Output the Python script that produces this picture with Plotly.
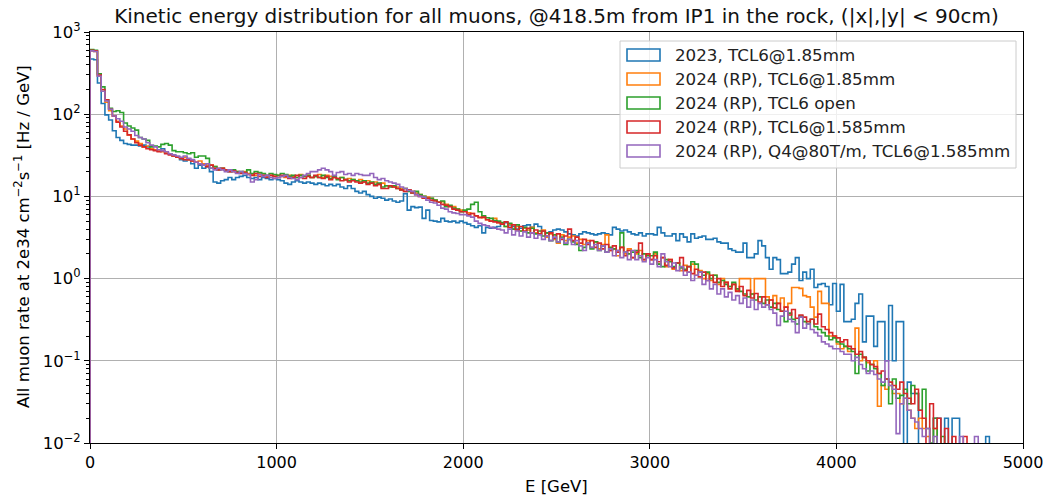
import plotly.graph_objects as go

BIN_WIDTH = 20  # GeV

series_names = [
    "2023, TCL6@1.85mm",
    "2024 (RP), TCL6@1.85mm",
    "2024 (RP), TCL6 open",
    "2024 (RP), TCL6@1.585mm",
    "2024 (RP), Q4@80T/m, TCL6@1.585mm",
]
colors = ["#1f77b4", "#ff7f0e", "#2ca02c", "#d62728", "#9467bd"]

rate_2023_185 = [
    470, 460, 240, 135, 98, 85, 63, 52, 48, 44,
    43, 42, 42, 41, 42, 40, 38, 37, 36, 38,
    34, 33, 31, 30, 28, 27, 28, 25, 22, 24,
    22, 23, 20, 15, 14.5, 15.5, 16, 17, 16, 17,
    17.5, 18, 17, 16.5, 17, 16, 17, 16.5, 16, 16.5,
    16, 15.5, 14.5, 14, 15, 15.5, 15, 14.5, 15, 14.5,
    14, 14.5, 14, 13.5, 14, 13.5, 14, 13, 12.5, 13.5,
    12.5, 11.5, 11, 11.5, 10.5, 10, 9.5, 9.8, 9.5, 9,
    9.3, 8.8, 8.5, 8.8, 10.8, 6.8, 7.5, 7.3, 7.4, 5.4,
    6.8, 5.1, 5.0, 4.9, 5.4, 5.0, 4.9, 5.0, 4.8, 5.0,
    4.8, 4.6, 4.4, 4.2, 4.4, 3.6, 4.2, 4.1, 4.2, 4.3,
    4.7, 4.8, 4.5, 4.3, 4.0, 4.1, 4.4, 4.5, 4.2, 4.6,
    4.3, 3.8, 3.6, 3.7, 3.9, 4.0, 3.9, 3.7, 3.5, 3.4,
    3.3, 3.5, 3.7, 3.6, 3.5, 3.4, 3.5, 3.6, 3.5, 3.4,
    4.2, 4.0, 3.8, 3.9, 3.7, 3.5, 3.4, 3.6, 3.3, 3.5,
    3.5, 3.4, 4.2, 3.6, 3.3, 3.3, 3.5, 2.9, 3.5, 3.2,
    2.8, 3.5, 3.1, 3.2, 3.3, 3.0, 3.0, 3.1, 2.8, 2.7,
    2.7, 2.3, 2.2, 2.1, 2.1, 2.7, 1.8, 1.8, 2.0, 2.9,
    2.5, 1.8, 1.3, 1.8, 1.7, 1.15, 1.15, 1.2, 1.5, 1.8,
    0.95, 1.2, 1.0, 1.3, 0.78, 0.85, 0.87, 0.8, 0.48, 0.87,
    0.4, 0.85, 0.3, 0.3, 0.32, 0.5, 0.65, 0.17, 0.35, 0.35,
    0.15, 0.3, 0.3, 0.1, 0.47, 0.1, 0.3, 0.3, 0, 0.055,
    0.04, 0.04, 0, 0, 0, 0, 0.02, 0.02, 0, 0.02,
    0, 0.02, 0.02, 0, 0, 0, 0, 0, 0, 0,
    0.012,
]

rate_2024_185 = [
    590, 580, 290, 190, 140, 110, 95, 82, 72, 66,
    56, 50, 47, 44, 40, 41, 38, 37, 36, 35,
    34, 33, 31, 30, 29, 30, 28, 27, 26, 27,
    25, 24, 24, 23, 22, 22, 21, 21, 20, 20,
    19.5, 20, 19, 18.5, 18, 19, 18, 17.5, 18, 17.5,
    18, 17.5, 17, 18, 17.5, 17, 18.5, 17.5, 18, 17,
    17.5, 18.5, 17, 18, 17.5, 17, 16.5, 17, 16, 16.5,
    16, 15.5, 16, 15, 15.5, 14.5, 15, 14, 14.5, 13.5,
    13.5, 13, 13, 12.5, 12.5, 12, 11.5, 11, 10.5, 10,
    9.8, 9.5, 9, 8.5, 8.6, 8, 7.6, 7.5, 7, 6.8,
    6.6, 6.3, 6.2, 5.8, 5.6, 5.5, 5.2, 5.0, 5.4, 4.8,
    4.7, 4.3, 4.6, 4.0, 4.3, 3.8, 4.1, 3.9, 4.2, 3.6,
    3.5, 3.9, 3.2, 3.5, 3.0, 2.7, 3.4, 2.9, 3.2, 3.3,
    2.7, 3.0, 2.6, 2.9, 2.4, 2.8, 2.3, 2.6, 3.4, 2.2,
    2.3, 1.9, 2.4, 2.0, 2.3, 1.8, 2.0, 2.2, 1.7, 2.0,
    1.7, 2.0, 1.5, 1.8, 1.4, 1.7, 1.3, 1.55, 1.25, 1.45,
    1.2, 1.5, 1.1, 1.25, 1.0, 1.15, 0.95, 1.1, 0.85, 1.0,
    0.9, 0.8, 0.85, 0.72, 1.0, 1.0, 1.0, 0.65, 1.0, 1.0,
    1.0, 0.6, 0.55, 0.62, 0.5, 0.58, 0.45, 0.5, 0.78, 0.78,
    0.76, 0.62, 0.6, 0.45, 0.34, 0.7, 0.5, 0.5, 0.2, 0.2,
    0.16, 0.14, 0.15, 0.13, 0.14, 0.25, 0.1, 0.11, 0.095, 0.09,
    0.1, 0.028, 0.05, 0.045, 0.05, 0.04, 0.04, 0.03, 0.035, 0.025,
    0.02, 0.015, 0.02, 0.015, 0.012, 0, 0.015, 0, 0, 0,
]

rate_2024_open = [
    610, 600, 310, 215, 150, 118, 108, 110, 105, 78,
    72, 68, 64, 52, 50, 48, 40, 41, 40, 43,
    44, 42, 36, 35, 35, 34, 33, 34, 30, 31,
    31, 29, 22, 23, 21, 22, 21, 20, 21, 20,
    20, 19.5, 21, 19, 20, 19.5, 19, 18, 19, 18.5,
    18, 19, 18.5, 17.5, 18, 17, 18, 17.5, 18, 17,
    17.5, 17, 18, 17, 16.5, 17.5, 16, 17, 16, 15.5,
    16, 15.5, 15, 15.5, 14.5, 15, 14, 14.5, 13, 13.5,
    13, 13.5, 12.5, 12, 12.5, 11.5, 11, 11.5, 10.5, 10,
    9.5, 9.5, 9, 8.5, 8.8, 7.5, 7.8, 7.2, 7.0, 6.5,
    6.8, 7.0, 8.0, 8.5, 6.5, 5.8, 5.5, 5.4, 5.1, 5.0,
    4.8, 4.3, 4.7, 4.0, 4.5, 3.8, 4.2, 3.6, 4.1, 3.5,
    3.8, 3.3, 3.6, 2.9, 3.4, 2.8, 3.2, 2.6, 3.0, 2.8,
    2.6, 2.2, 2.4, 2.7, 2.3, 2.8, 2.2, 2.5, 2.1, 2.4,
    2.3, 2.2, 3.6, 2.1, 2.0, 2.1, 2.2, 1.8, 2.0, 1.9,
    1.9, 2.1, 1.5, 1.4, 1.7, 1.6, 1.4, 1.55, 1.35, 1.3,
    1.4, 1.6, 1.5, 1.2, 1.1, 1.2, 1.0, 1.1, 0.9, 0.95,
    0.85, 0.8, 0.9, 0.75, 0.7, 0.65, 0.6, 0.65, 0.55, 0.6,
    0.5, 0.55, 0.45, 0.5, 0.42, 0.4, 0.3, 0.38, 0.32, 0.28,
    0.35, 0.3, 0.28, 0.32, 0.26, 0.24, 0.22, 0.2, 0.18, 0.19,
    0.17, 0.16, 0.15, 0.14, 0.13, 0.07, 0.12, 0.11, 0.075, 0.09,
    0.08, 0.07, 0.05, 0.06, 0.03, 0.06, 0.035, 0.038, 0.045, 0.03,
    0.05, 0.04, 0.025, 0.045, 0.015, 0.01, 0.02, 0, 0.012, 0,
]

rate_2024_1585 = [
    600, 590, 300, 200, 150, 115, 95, 80, 70, 62,
    56, 50, 45, 42, 40, 38, 37, 36, 35, 36,
    33, 32, 31, 30, 29, 28, 28, 27, 26, 25,
    24, 23, 24, 22, 21, 22, 21, 20, 20.5, 19.5,
    19, 19.5, 18.5, 18, 19, 17.5, 18, 17, 18, 17.5,
    17, 18, 17.5, 16.5, 17, 18, 17, 16.5, 17.5, 17,
    18, 17, 16.5, 17.5, 16, 17, 16.5, 15.5, 16, 15,
    15.5, 15, 14.5, 15, 14, 14.5, 13.5, 14, 12.5, 12.5,
    13.5, 13, 12.5, 12, 11.5, 12, 11, 10.5, 10, 9.5,
    9.5, 9, 8.8, 8.5, 8, 7.8, 7.5, 7, 6.8, 6.5,
    6.5, 6, 6.2, 5.8, 5.5, 5.6, 5.2, 5, 4.9, 4.8,
    4.6, 4.9, 4.2, 4.5, 3.9, 4.3, 3.8, 4.1, 3.6, 3.9,
    3.5, 3.8, 3.3, 3.6, 3.1, 3.5, 3.0, 3.3, 4.0, 2.9,
    3.2, 2.7, 3.0, 2.6, 2.9, 2.4, 2.7, 2.3, 2.6, 2.2,
    2.5, 2.1, 2.4, 1.9, 2.2, 1.8, 2.1, 2.7, 1.7, 2.0,
    1.7, 1.9, 1.6, 1.8, 1.45, 1.7, 1.35, 1.55, 1.8, 1.25,
    1.4, 1.15, 1.3, 1.05, 1.2, 0.95, 1.1, 0.9, 1.0, 0.8,
    0.9, 0.75, 0.85, 0.7, 0.8, 0.62, 0.72, 0.58, 0.66, 0.52,
    0.6, 0.48, 0.55, 0.44, 0.5, 0.4, 0.45, 0.36, 0.42, 0.33,
    0.36, 0.34, 0.3, 0.32, 0.28, 0.37, 0.26, 0.24, 0.22, 0.2,
    0.19, 0.17, 0.18, 0.15, 0.14, 0.12, 0.13, 0.11, 0.1, 0.09,
    0.085, 0.07, 0.075, 0.06, 0.055, 0.05, 0.045, 0.055, 0.04, 0.035,
    0.03, 0.045, 0.025, 0.02, 0, 0.03, 0.015, 0.02, 0, 0.015,
    0, 0.012, 0, 0, 0.012,
]

rate_2024_q4 = [
    590, 580, 290, 190, 145, 115, 95, 88, 82, 70,
    66, 62, 55, 52, 50, 45, 42, 40, 37, 36,
    35, 33, 32, 31, 30, 31, 29, 28, 26, 25,
    24, 25, 22, 21, 22, 21, 20, 21, 20, 19,
    20, 19, 18.5, 15, 16, 18.5, 17.5, 18, 17, 16.5,
    17, 17.5, 18, 17, 16.5, 16, 17, 18, 19, 20,
    20, 21, 22, 21, 20, 18, 19.5, 20, 18.5, 19,
    18, 19, 18.5, 18, 18, 19, 17, 16, 16.5, 15.5,
    15, 14.5, 14, 13, 12.5, 11.8, 11.5, 10.5, 10, 9.8,
    9, 8.5, 8.3, 7.8, 7.2, 7, 6.5, 6.3, 6.2, 6.0,
    6.0, 5.8, 5.6, 5.0, 4.7, 4.5, 4.4, 4.2, 4.1, 4.0,
    3.9, 3.6, 4.0, 3.4, 3.8, 3.3, 3.7, 3.2, 3.6, 3.1,
    3.4, 3.0, 3.3, 2.9, 3.2, 2.8, 3.1, 2.7, 3.0, 2.6,
    2.9, 2.5, 2.2, 2.7, 2.4, 2.6, 2.2, 2.5, 2.1, 2.3,
    1.9, 2.2, 1.8, 2.1, 1.7, 2.2, 1.7, 1.9, 1.6, 1.8,
    1.5, 1.7, 1.4, 2.0, 1.6, 1.4, 1.55, 1.25, 1.4, 1.1,
    1.2, 0.95, 1.1, 1.2, 0.85, 0.95, 0.75, 0.85, 0.65, 0.75,
    0.6, 0.68, 0.55, 0.62, 0.5, 0.58, 0.45, 0.55, 0.42, 0.5,
    0.45, 0.48, 0.42, 0.38, 0.27, 0.35, 0.4, 0.32, 0.3, 0.22,
    0.34, 0.25, 0.28, 0.24, 0.22, 0.2, 0.17, 0.16, 0.15, 0.14,
    0.14, 0.13, 0.12, 0.12, 0.1, 0.11, 0.09, 0.08, 0.07, 0.075,
    0.068, 0.06, 0.055, 0.1, 0.05, 0.045, 0.013, 0.03, 0.035, 0.025,
    0.02, 0.018, 0.015, 0.012, 0.015, 0, 0.012, 0, 0, 0,
    0, 0, 0, 0.012, 0, 0, 0, 0.012,
]

all_series = [rate_2023_185, rate_2024_185, rate_2024_open, rate_2024_1585, rate_2024_q4]

x_ticks = [0, 1000, 2000, 3000, 4000, 5000]
y_ticks = [1e-2, 1e-1, 1e0, 1e1, 1e2, 1e3]
y_ticktext = ["10<sup>−2</sup>", "10<sup>−1</sup>", "10<sup>0</sup>",
              "10<sup>1</sup>", "10<sup>2</sup>", "10<sup>3</sup>"]

FLOOR = 1e-6  # empty bins: drawn below the axis so the outline drops to the bottom


def step_points(vals):
    xs = [0]
    ys = [FLOOR]
    for i, v in enumerate(vals):
        xs.append(i * BIN_WIDTH)
        ys.append(v if v > 0 else FLOOR)
    xs.append(len(vals) * BIN_WIDTH)
    ys.append(FLOOR)
    return xs, ys


fig = go.Figure()
for name, vals, col in zip(series_names, all_series, colors):
    xs, ys = step_points(vals)
    fig.add_trace(go.Scatter(x=xs, y=ys, mode="lines", name=name,
                             line=dict(color=col, width=1.6, shape="hv")))

# plot area in pixels
L, R, T, B = 90, 1023, 32, 443
W, H = 1048, 497


def px(xp):
    return (xp - L) / (R - L)


def py(yp):
    return (B - yp) / (B - T)


minor_vals = [k * 10.0 ** d for d in range(-2, 3) for k in range(2, 10)]

fig.update_layout(
    width=W, height=H,
    margin=dict(l=L, r=W - R, t=T, b=H - B, autoexpand=False),
    plot_bgcolor="white", paper_bgcolor="white",
    font=dict(family="DejaVu Sans", size=16, color="black"),
    showlegend=False,
    title=dict(text="Kinetic energy distribution for all muons, @418.5m from IP1 in the rock, (|x|,|y| < 90cm)",
               x=0.5, xref="paper", y=1 - 16 / H, yref="container", yanchor="middle",
               xanchor="center", font=dict(size=20, family="DejaVu Sans", color="#111111")),
    xaxis=dict(range=[0, 5000], tickmode="array", tickvals=x_ticks, automargin=False,
               showgrid=True, gridcolor="#b0b0b0", gridwidth=1, zeroline=False,
               showline=True, mirror=True, linecolor="black", linewidth=1,
               ticks="outside", ticklen=5, tickcolor="black", tickfont=dict(size=16)),
    yaxis=dict(type="log", range=[-2, 3], tickmode="array", tickvals=y_ticks,
               ticktext=y_ticktext, automargin=False,
               showgrid=True, gridcolor="#b0b0b0", gridwidth=1, zeroline=False,
               showline=True, mirror=True, linecolor="black", linewidth=1,
               ticks="outside", ticklen=5, tickcolor="black", tickfont=dict(size=16.5),
               minor=dict(tickmode="array", tickvals=minor_vals, ticks="outside",
                          ticklen=3, tickcolor="black", showgrid=False)),
)

annotations = [
    dict(text="E [GeV]", x=px((L + R) / 2), y=py(486), xref="paper", yref="paper",
         showarrow=False, xanchor="center", yanchor="middle", font=dict(size=16.5)),
    dict(text="All muon rate at 2e34 cm<sup>−2</sup>s<sup>−1</sup> [Hz / GeV]",
         x=px(22), y=py(237), xref="paper", yref="paper", textangle=-90,
         showarrow=False, xanchor="center", yanchor="middle", font=dict(size=16.5)),
]

shapes = [
    dict(type="rect", xref="paper", yref="paper", x0=px(620), x1=px(1016),
         y0=py(168), y1=py(41), line=dict(color="#cccccc", width=1),
         fillcolor="rgba(255,255,255,0.8)", layer="above"),
]
row_y = [55, 79, 103, 127, 151]
for name, col, ry in zip(series_names, colors, row_y):
    shapes.append(dict(type="rect", xref="paper", yref="paper",
                       x0=px(627), x1=px(660), y0=py(ry + 6), y1=py(ry - 6),
                       line=dict(color=col, width=1.6), fillcolor="rgba(0,0,0,0)",
                       layer="above"))
    annotations.append(dict(text=name, x=px(673), y=py(ry), xref="paper", yref="paper",
                            showarrow=False, xanchor="left", yanchor="middle",
                            font=dict(size=16.7, color="#222222")))

fig.update_layout(shapes=shapes, annotations=annotations)

fig.write_html("out.html")
